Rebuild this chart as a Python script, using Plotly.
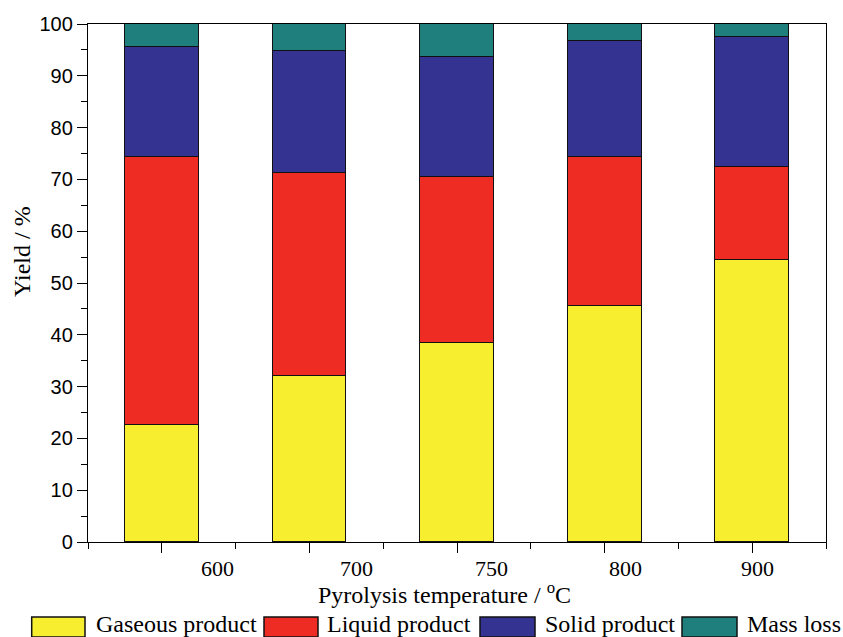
import plotly.graph_objects as go

# ---- data ----
temperatures = ["600", "700", "750", "800", "900"]
gaseous = [22.6, 32.1, 38.5, 45.6, 54.4]
liquid = [51.7, 39.2, 32.0, 28.7, 18.0]
solid = [21.3, 23.4, 23.1, 22.5, 25.1]
mass_loss = [4.4, 5.3, 6.4, 3.2, 2.5]
series_names = ["Gaseous product", "Liquid product", "Solid product", "Mass loss"]
series_colors = ["#F7EE2F", "#EE2C24", "#343391", "#1F7F7C"]

# bar slots on a linear axis (1..n); labels sit a bit off, as in the original
slots = list(range(1, len(temperatures) + 1))
label_pos = [1.38, 2.318, 3.234, 4.143, 5.039]

W, H = 843, 637
L, R, T, B = 88, 826, 24, 542


def px_x(x):
    return (x - L) / (R - L)


def px_y(y):
    return (B - y) / (B - T)


fig = go.Figure()
for name, vals, col in zip(series_names, [gaseous, liquid, solid, mass_loss], series_colors):
    fig.add_trace(go.Bar(
        x=slots, y=vals, name=name, width=0.5,
        marker=dict(color=col, line=dict(color="#111111", width=1.5)),
        showlegend=False,
    ))

serif = "Liberation Serif, Times New Roman, serif"
sans = "Liberation Sans, Arial, sans-serif"

annotations = []
for lab, xp in zip(temperatures, label_pos):
    annotations.append(dict(x=xp, y=px_y(568), xref="x", yref="paper", text=lab,
                            showarrow=False, xanchor="center", yanchor="middle",
                            font=dict(family=serif, size=22, color="black")))
annotations.append(dict(x=px_x(444), y=px_y(593), xref="paper", yref="paper",
                        text="Pyrolysis temperature / <sup>o</sup>C", showarrow=False,
                        xanchor="center", yanchor="middle",
                        font=dict(family=serif, size=24, color="black")))
annotations.append(dict(x=px_x(22), y=px_y(252), xref="paper", yref="paper",
                        text="Yield / %", showarrow=False, textangle=-90,
                        xanchor="center", yanchor="middle",
                        font=dict(family=serif, size=24, color="black")))

# manual legend
box_x = [(31.7, 85), (264, 318), (480, 535), (682, 737)]
text_x = [94, 325, 543, 745]
shapes = []
for (x0, x1), tx, name, col in zip(box_x, text_x, series_names, series_colors):
    shapes.append(dict(type="rect", xref="paper", yref="paper",
                       x0=px_x(x0), x1=px_x(x1), y0=px_y(617), y1=px_y(637),
                       fillcolor=col, line=dict(color="#111111", width=1.5)))
    annotations.append(dict(x=px_x(tx), y=px_y(623.5), xref="paper", yref="paper",
                            text=name, showarrow=False, xanchor="left", yanchor="middle",
                            font=dict(family=serif, size=24, color="black")))

fig.update_layout(
    width=W, height=H,
    margin=dict(l=L, r=W - R, t=T, b=H - B, pad=0),
    paper_bgcolor="white", plot_bgcolor="white",
    barmode="stack", bargap=0,
    annotations=annotations, shapes=shapes,
    showlegend=False,
)
fig.update_xaxes(
    range=[0.5, 5.5], tickmode="array", tickvals=slots, showticklabels=False,
    ticks="outside", ticklen=10, tickwidth=1.3, tickcolor="black",
    minor=dict(tickmode="array", tickvals=[0.5, 1.5, 2.5, 3.5, 4.5, 5.5],
               ticks="outside", ticklen=6, tickwidth=1.3, tickcolor="black"),
    showline=True, linecolor="black", linewidth=1.3, mirror=True,
    showgrid=False, zeroline=False,
)
fig.update_yaxes(
    range=[0, 100], tickmode="linear", tick0=0, dtick=10,
    ticks="outside", ticklen=10, tickwidth=1.3, tickcolor="black",
    minor=dict(dtick=5, ticks="outside", ticklen=6, tickwidth=1.3, tickcolor="black"),
    tickfont=dict(family=sans, size=20, color="black"),
    showline=True, linecolor="black", linewidth=1.3, mirror=True,
    showgrid=False, zeroline=False,
)

fig.write_html("out.html")
